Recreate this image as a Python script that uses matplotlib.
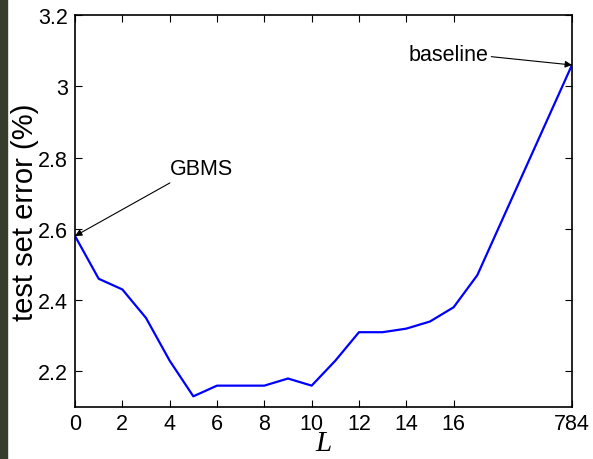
import matplotlib
matplotlib.use("Agg")
import matplotlib.pyplot as plt
from matplotlib.patches import Rectangle

plt.rcParams['font.family'] = ['Liberation Sans', 'DejaVu Sans']

# L values 0..17 plus the baseline (784) placed at position 21
L_pos = [0, 1, 2, 3, 4, 5, 6, 7, 8, 9, 10, 11, 12, 13, 14, 15, 16, 17, 21]
err = [2.58, 2.46, 2.43, 2.35, 2.23, 2.13, 2.16, 2.16, 2.16, 2.18, 2.16,
       2.23, 2.31, 2.31, 2.32, 2.34, 2.38, 2.47, 3.06]
xtick_pos = [0, 2, 4, 6, 8, 10, 12, 14, 16, 21]
xtick_labels = ['0', '2', '4', '6', '8', '10', '12', '14', '16', '784']
yticks = [2.2, 2.4, 2.6, 2.8, 3.0, 3.2]
ytick_labels = ['2.2', '2.4', '2.6', '2.8', '3', '3.2']

fig = plt.figure(figsize=(5.93, 4.60), dpi=100)
fig.patches.append(Rectangle((0, 0), 7 / 593, 1, transform=fig.transFigure,
                             color='#373d2d', zorder=-1))
ax = fig.add_axes([0.1265, 0.113, 0.838, 0.852])

ax.plot(L_pos, err, color='#0000ff', lw=1.6)

ax.set_xlim(0, 21)
ax.set_ylim(2.1, 3.2)
ax.set_xticks(xtick_pos)
ax.set_xticklabels(xtick_labels)
ax.set_yticks(yticks)
ax.set_yticklabels(ytick_labels)
ax.tick_params(direction='in', top=True, right=True, length=5, width=0.8,
               labelsize=15.5, pad=5)
ax.tick_params(axis='x', pad=4)
for s in ax.spines.values():
    s.set_linewidth(1.2)

ax.set_ylabel('test set error (%)', fontsize=21, labelpad=-1)
ax.set_xlabel('L', fontsize=21, style='italic', family='Liberation Serif',
              labelpad=-2.5)

ax.annotate('GBMS', xy=(0, 2.58), xytext=(4.0, 2.77), fontsize=15.5,
            ha='left', va='center',
            arrowprops=dict(arrowstyle='-|>', color='black', lw=0.8,
                            mutation_scale=10, shrinkA=2, shrinkB=0,
                            relpos=(0.12, 0.0)))
ax.annotate('baseline', xy=(21, 3.06), xytext=(14.1, 3.09), fontsize=15.5,
            ha='left', va='center',
            arrowprops=dict(arrowstyle='-|>', color='black', lw=0.8,
                            mutation_scale=10, shrinkA=0, shrinkB=0,
                            relpos=(1.0, 0.4)))

fig.savefig('out.png', dpi=100)
